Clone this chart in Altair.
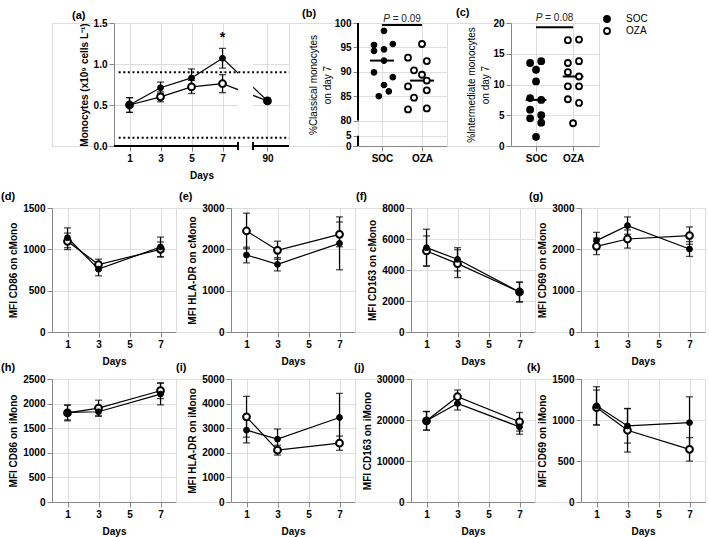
import altair as alt
import pandas as pd

FONT = "Liberation Sans"
BLACK = "black"

# ---------------- panel (a): monocyte counts (broken x axis) ----------------
A_DAY_LABELS = ["1", "3", "5", "7", "90"]
A_POS = [1, 3, 5, 7, 9.9]            # place of each day on the broken axis
A_SOC = [0.50, 0.71, 0.83, 1.07, 0.55]
A_SOC_ERR = [0.09, 0.07, 0.11, 0.12, 0.03]
A_OZA = [0.50, 0.60, 0.72, 0.76, 0.55]
A_OZA_ERR = [0.09, 0.06, 0.08, 0.11, 0.03]
A_REF = [0.1, 0.9]                   # normal range (dotted)
A_REF_X = [0.3, 11.29]
A_XMAX = 11.29
A_BREAK = [8.0, 8.97]                # axis break
A_STAR = [7, 1.27]

# ---------------- panel (b): % classical monocytes ----------------
B_SOC = [98.4, 95.5, 95.7, 94.3, 94.6, 92.3, 89.9, 88.9, 87.3, 86.0, 85.0]
B_SOC_JIT = [0.05, -0.2, 0.27, -0.2, 0.05, 0.05, -0.2, 0.27, 0.05, 0.17, -0.08]
B_OZA = [95.7, 92.9, 92.2, 90.3, 89.4, 88.2, 87.0, 86.2, 84.7, 82.5, 82.3]
B_OZA_JIT = [0.0, -0.35, 0.12, -0.2, 0.0, 0.12, -0.35, 0.12, -0.2, 0.12, -0.35]
B_YDOM = [74.8, 100]
B_BREAK_POS = [74.8, 76.92]          # where "0" and "5" sit on the broken axis
B_BREAK_LABELS = ["0", "5"]
B_P = ["P", "= 0.09"]
B_BRACKET_Y = 99.6
B_TEXT_Y = 100.3

# ---------------- panel (c): % intermediate monocytes ----------------
C_SOC = [13.5, 13.8, 12.4, 10.5, 7.8, 7.5, 5.9, 4.5, 5.0, 3.8, 1.5]
C_SOC_JIT = [-0.16, 0.14, 0.0, 0.0, -0.16, 0.14, -0.16, -0.16, 0.14, 0.14, 0.0]
C_OZA = [17.2, 17.3, 13.5, 13.8, 12.0, 11.3, 9.7, 9.7, 7.6, 7.0, 3.7]
C_OZA_JIT = [-0.14, 0.16, -0.14, 0.16, -0.14, 0.16, -0.14, 0.16, -0.14, 0.16, 0.0]
C_P = ["P", "= 0.08"]
C_BRACKET_Y = 19.3
C_TEXT_Y = 20.25

GROUPS = ["SOC", "OZA"]

# ---------------- panels (d)-(k): MFI time courses ----------------
MFI_DAYS = [1, 3, 7]
MFI_TICKS = [1, 3, 5, 7]
MFI = {
    "d": dict(title="MFI CD86 on cMono", ymax=1500, step=500,
              soc=[1140, 760, 1028], soc_err=[120, 80, 120],
              oza=[1097, 816, 1000], oza_err=[100, 65, 90]),
    "e": dict(title="MFI HLA-DR on cMono", ymax=3000, step=1000,
              soc=[1863, 1638, 2145], soc_err=[190, 160, 640],
              oza=[2444, 1977, 2363], oza_err=[430, 220, 300]),
    "f": dict(title="MFI  CD163 on cMono", ymax=8000, step=2000,
              soc=[5440, 4690, 2580], soc_err=[1190, 750, 650],
              oza=[5230, 4410, 2580], oza_err=[970, 900, 620]),
    "g": dict(title="MFI CD69 on cMono", ymax=3000, step=1000,
              soc=[2211, 2574, 2008], soc_err=[200, 210, 180],
              oza=[2073, 2250, 2332], oza_err=[200, 220, 210]),
    "h": dict(title="MFI CD86 on iMono", ymax=2500, step=500,
              soc=[1820, 1834, 2194], soc_err=[150, 90, 220],
              oza=[1810, 1909, 2262], oza_err=[160, 160, 160]),
    "i": dict(title="MFI HLA-DR on iMono", ymax=5000, step=1000,
              soc=[2922, 2555, 3435], soc_err=[520, 410, 980],
              oza=[3464, 2107, 2392], oza_err=[830, 200, 290]),
    "j": dict(title="MFI CD163 on iMono", ymax=30000, step=10000,
              soc=[19800, 24035, 18337], soc_err=[2270, 1600, 1800],
              oza=[19800, 25672, 19560], oza_err=[2270, 1640, 2270]),
    "k": dict(title="MFI CD69 on iMono", ymax=1500, step=500,
              soc=[1173, 928, 968], soc_err=[233, 210, 315],
              oza=[1152, 875, 642], oza_err=[213, 266, 143]),
}
TAG_DX = {"d": -51, "e": -52, "f": -55, "g": -52, "h": -51, "i": -55, "j": -57, "k": -54}

AXIS_STYLE = dict(labelFont=FONT, labelFontWeight="bold", labelFontSize=10, labelColor=BLACK,
                  titleFont=FONT, titleFontSize=10, titleColor=BLACK)
X_TITLE_PAD = 7


def tag_title(text, dx, offset=3, dy=0):
    return alt.TitleParams(text=text, anchor="start", frame="group", dx=dx, dy=dy, offset=offset,
                           fontSize=11, fontWeight="bold", font=FONT, color=BLACK)


def spacer(w, h):
    return alt.Chart(pd.DataFrame({"v": [0]})).mark_point(opacity=0).encode(
        x=alt.X("v:Q", axis=None), y=alt.Y("v:Q", axis=None)
    ).properties(width=w, height=h)


def mean_err_layers(base, xenc, yf, soc_size=34, oza_size=42):
    line = base.mark_line(color=BLACK, strokeWidth=1.2).encode(x=xenc, y=yf("mean"), detail="grp:N")
    rule = base.mark_rule(color=BLACK, strokeWidth=1.2).encode(x=xenc, y=yf("lo"), y2="hi:Q")
    cap_lo = base.mark_tick(orient="horizontal", color=BLACK, size=7, thickness=1.3).encode(x=xenc, y=yf("lo"))
    cap_hi = base.mark_tick(orient="horizontal", color=BLACK, size=7, thickness=1.3).encode(x=xenc, y=yf("hi"))
    oza = base.transform_filter("datum.grp == 'OZA'").mark_circle(
        size=oza_size, fill="white", stroke=BLACK, strokeWidth=2, opacity=1).encode(x=xenc, y=yf("mean"))
    soc = base.transform_filter("datum.grp == 'SOC'").mark_circle(
        size=soc_size, fill=BLACK, stroke=BLACK, strokeWidth=1, opacity=1).encode(x=xenc, y=yf("mean"))
    return line, rule, cap_lo, cap_hi, oza, soc


# ---------------- build (a) ----------------
a_df = pd.DataFrame({
    "pos": A_POS * 2,
    "grp": ["SOC"] * len(A_POS) + ["OZA"] * len(A_POS),
    "mean": A_SOC + A_OZA,
    "err": A_SOC_ERR + A_OZA_ERR,
})
a_label_expr = " : ".join(
    [f"datum.value == {p} ? '{l}'" for p, l in zip(A_POS, A_DAY_LABELS)] + ["''"]
)
a_x = alt.X("pos:Q", scale=alt.Scale(domain=[0, A_XMAX], nice=False, zero=False),
            axis=alt.Axis(values=A_POS, labelExpr=a_label_expr, domain=False, title="Days",
                          labelFlush=False, titleFontWeight="bold", titlePadding=X_TITLE_PAD, **AXIS_STYLE))


def a_y(f):
    return alt.Y(f"{f}:Q", scale=alt.Scale(domain=[0, 1.5], nice=False),
                 axis=alt.Axis(values=[0, 0.5, 1.0, 1.5], format=".1f", title="Monocytes (x10⁹ cells L⁻¹)",
                               titleFontWeight="bold", **AXIS_STYLE))


a_base = alt.Chart(a_df).transform_calculate(lo="datum.mean - datum.err", hi="datum.mean + datum.err")
a_line, a_rule, a_clo, a_chi, a_oza, a_soc = mean_err_layers(a_base, a_x, a_y, 34, 46)

gap_df = pd.DataFrame({"x1": [A_BREAK[0]], "x2": [A_BREAK[1]], "y1": [0.2], "y2": [1.3]})
a_gap = alt.Chart(gap_df).mark_rect(fill="white").encode(
    x=alt.X("x1:Q", scale=alt.Scale(domain=[0, A_XMAX], nice=False)), x2="x2:Q", y=a_y("y1"), y2="y2:Q")

ref_df = pd.DataFrame({"y": A_REF, "x1": [A_REF_X[0]] * 2, "x2": [A_REF_X[1]] * 2})
a_ref = alt.Chart(ref_df).mark_rule(color=BLACK, strokeWidth=2, strokeDash=[2, 2.6]).encode(
    x="x1:Q", x2="x2:Q", y=a_y("y"))

seg_df = pd.DataFrame({"x1": [0, A_BREAK[1]], "x2": [A_BREAK[0], A_XMAX], "y": [0, 0]})
a_seg = alt.Chart(seg_df).mark_rule(color=BLACK, strokeWidth=2).encode(x="x1:Q", x2="x2:Q", y=a_y("y"))

cap_df = pd.DataFrame({"x": A_BREAK, "y1": [-0.05, -0.05], "y2": [0.05, 0.05]})
a_cap = alt.Chart(cap_df).mark_rule(color=BLACK, strokeWidth=2).encode(x="x:Q", y=a_y("y1"), y2="y2:Q")

star_df = pd.DataFrame({"x": [A_STAR[0]], "y": [A_STAR[1]], "t": ["*"]})
a_star = alt.Chart(star_df).mark_text(font=FONT, fontSize=14, fontWeight="bold", color=BLACK,
                                      baseline="alphabetic").encode(x="x:Q", y=a_y("y"), text="t:N")

chart_a = alt.layer(a_line, a_gap, a_ref, a_seg, a_cap, a_rule, a_clo, a_chi, a_oza, a_soc, a_star).properties(
    width=175, height=123, title=tag_title("(a)", -42, dy=6))


# ---------------- scatter panels (b), (c) ----------------
def scatter_panel(soc, soc_jit, oza, oza_jit, xdom, ydom, yvalues, ylabel_expr, ytitle,
                  bracket_y, text_y, ptext, half, broken=None, legend=False):
    df = pd.DataFrame({
        "g": [1] * len(soc) + [2] * len(oza),
        "grp": ["SOC"] * len(soc) + ["OZA"] * len(oza),
        "val": soc + oza,
        "jit": soc_jit + oza_jit,
    })
    x_axis = alt.Axis(values=[1, 2], labelExpr="datum.value == 1 ? 'SOC' : 'OZA'", title=None,
                      labelFlush=False, **AXIS_STYLE)
    xs = alt.Scale(domain=xdom, nice=False, zero=False)
    y_axis_kw = dict(values=yvalues, title=ytitle, titleFontWeight="normal", titlePadding=2,
                     titleLineHeight=14, **AXIS_STYLE)
    if ylabel_expr:
        y_axis_kw["labelExpr"] = ylabel_expr
    else:
        y_axis_kw["format"] = "d"
    if broken is not None:
        y_axis_kw["domain"] = False
    ys = alt.Scale(domain=ydom, nice=False, zero=False)

    def yf(f):
        return alt.Y(f"{f}:Q", scale=ys, axis=alt.Axis(**y_axis_kw))

    def xf(f):
        return alt.X(f"{f}:Q", scale=xs, axis=x_axis)

    base = alt.Chart(df).transform_calculate(xp="datum.g + datum.jit")
    layers = []
    if broken is not None:
        seg = pd.DataFrame({"x": [xdom[0]] * 2, "y1": [broken[0], broken[2]], "y2": [broken[1], broken[3]]})
        layers.append(alt.Chart(seg).mark_rule(color=BLACK, strokeWidth=2).encode(x=xf("x"), y=yf("y1"), y2="y2:Q"))
    med = base.transform_aggregate(med="median(val)", groupby=["g"]).transform_calculate(
        x1=f"datum.g - {half}", x2=f"datum.g + {half}").mark_rule(color=BLACK, strokeWidth=2).encode(
        x=xf("x1"), x2="x2:Q", y=yf("med"))
    layers.append(med)
    br = pd.DataFrame({"x1": [1], "x2": [2], "y": [bracket_y], "xm": [1.5], "ty": [text_y],
                       "p": [ptext[0]], "rest": [ptext[1]]})
    layers.append(alt.Chart(br).mark_rule(color=BLACK, strokeWidth=2).encode(x=xf("x1"), x2="x2:Q", y=yf("y")))
    layers.append(alt.Chart(br).mark_text(font=FONT, fontSize=10, fontStyle="italic", align="left", dx=-18.8,
                                          baseline="alphabetic", color="#222").encode(x=xf("xm"), y=yf("ty"), text="p:N"))
    layers.append(alt.Chart(br).mark_text(font=FONT, fontSize=10, align="left", dx=-9.3,
                                          baseline="alphabetic", color="#222").encode(x=xf("xm"), y=yf("ty"), text="rest:N"))
    if legend:
        pts = base.mark_circle(size=36, stroke=BLACK, strokeWidth=1.8, opacity=1).encode(
            x=xf("xp"), y=yf("val"),
            fill=alt.Fill("grp:N", scale=alt.Scale(domain=GROUPS, range=[BLACK, "white"]),
                          legend=alt.Legend(title=None, orient="none", legendX=91, legendY=-9,
                                            labelFont=FONT, labelFontSize=10, labelFontWeight="normal",
                                            labelColor=BLACK, symbolType="circle", symbolSize=36,
                                            symbolStrokeColor=BLACK, symbolStrokeWidth=1.8,
                                            labelOffset=14, rowPadding=-2, padding=0)))
        layers.append(pts)
    else:
        layers.append(base.transform_filter("datum.grp == 'SOC'").mark_circle(
            size=30, fill=BLACK, stroke=BLACK, strokeWidth=1.2, opacity=1).encode(x=xf("xp"), y=yf("val")))
        layers.append(base.transform_filter("datum.grp == 'OZA'").mark_circle(
            size=36, fill="white", stroke=BLACK, strokeWidth=1.8, opacity=1).encode(x=xf("xp"), y=yf("val")))
    return alt.layer(*layers)


b_label_expr = (f"datum.value < {B_BREAK_POS[1] - 1} ? '{B_BREAK_LABELS[0]}' : "
                f"datum.value < 79 ? '{B_BREAK_LABELS[1]}' : format(datum.value, 'd')")
chart_b = scatter_panel(B_SOC, B_SOC_JIT, B_OZA, B_OZA_JIT, [0.4, 2.625], B_YDOM,
                        B_BREAK_POS + [80, 85, 90, 95, 100], b_label_expr,
                        ["%Classical monocytes", "on day 7"], B_BRACKET_Y, B_TEXT_Y, B_P, 0.3,
                        broken=[B_BREAK_POS[0], B_BREAK_POS[1], 80, 100]).properties(
    width=89, height=123, title=tag_title("(b)", -56, dy=8))

chart_c = scatter_panel(C_SOC, C_SOC_JIT, C_OZA, C_OZA_JIT, [0.324, 2.70], [0, 20],
                        [0, 5, 10, 15, 20], None, ["%Intermediate monocytes", "on day 7"],
                        C_BRACKET_Y, C_TEXT_Y, C_P, 0.28, legend=True).properties(
    width=88, height=123, title=tag_title("(c)", -55, dy=8))


# ---------------- MFI panels ----------------
def mfi_panel(key, height):
    p = MFI[key]
    df = pd.DataFrame({
        "day": MFI_DAYS * 2,
        "grp": ["SOC"] * 3 + ["OZA"] * 3,
        "mean": p["soc"] + p["oza"],
        "err": p["soc_err"] + p["oza_err"],
    })
    xenc = alt.X("day:Q", scale=alt.Scale(domain=[0, 8], nice=False, zero=False),
                 axis=alt.Axis(values=MFI_TICKS, format="d", title="Days", labelFlush=False,
                               titleFontWeight="bold", titlePadding=X_TITLE_PAD, **AXIS_STYLE))
    yvals = list(range(0, p["ymax"] + 1, p["step"]))

    def yf(f):
        return alt.Y(f"{f}:Q", scale=alt.Scale(domain=[0, p["ymax"]], nice=False),
                     axis=alt.Axis(values=yvals, format="d", title=p["title"],
                                   titleFontWeight="bold", **AXIS_STYLE))

    base = alt.Chart(df).transform_calculate(lo="datum.mean - datum.err", hi="datum.mean + datum.err")
    layers = mean_err_layers(base, xenc, yf, 34, 46)
    return alt.layer(*layers).properties(width=124, height=height,
                                         title=tag_title(f"({key})", TAG_DX[key], offset=3, dy=2))


row1 = alt.hconcat(spacer(62, 123), chart_a, spacer(69, 123), chart_b, spacer(64, 123), chart_c,
                   spacing=0, bounds="flush").resolve_scale(fill="independent").resolve_legend(fill="independent")

grid = alt.concat(
    mfi_panel("d", 124), spacer(55, 124), mfi_panel("e", 124), spacer(56, 124),
    mfi_panel("f", 124), spacer(46, 124), mfi_panel("g", 124),
    mfi_panel("h", 123), spacer(55, 123), mfi_panel("i", 123), spacer(56, 123),
    mfi_panel("j", 123), spacer(46, 123), mfi_panel("k", 123),
    columns=7, spacing={"row": 47, "column": 0}, bounds="flush",
)

chart = alt.vconcat(row1, grid, spacing=9).resolve_scale(fill="independent").resolve_legend(
    fill="independent").properties(
    padding={"left": 0, "top": 6, "right": 0, "bottom": 0}
).configure_view(stroke=None).configure_axis(
    labelFont=FONT, titleFont=FONT, labelFontSize=10, titleFontSize=10,
    labelFontWeight="bold", titleFontWeight="bold", labelColor=BLACK, titleColor=BLACK,
    domainColor=BLACK, tickColor=BLACK, domainWidth=2, tickWidth=2, tickSize=5,
    labelPadding=2, titlePadding=4, grid=False,
).configure(background="white")

chart.save("out.html", embed_options={"renderer": "svg", "actions": False})
